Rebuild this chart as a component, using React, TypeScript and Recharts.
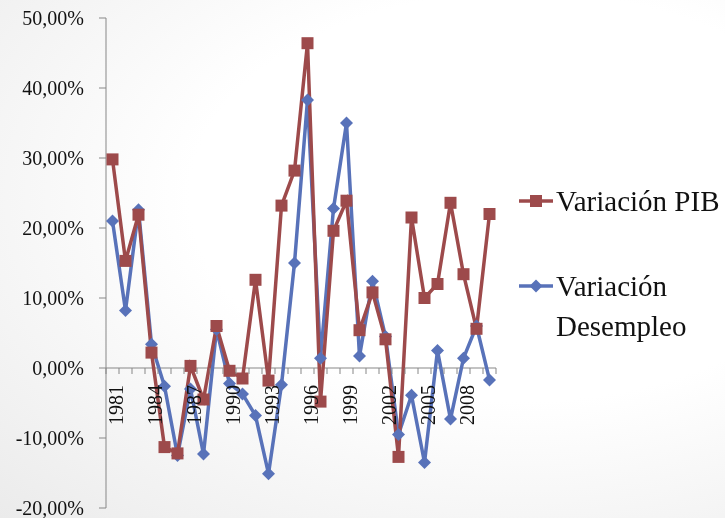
import React from 'react';
import { LineChart, Line, XAxis, YAxis, ReferenceLine } from 'recharts';

const years = [
  '1981', '1982', '1983', '1984', '1985', '1986', '1987', '1988', '1989', '1990',
  '1991', '1992', '1993', '1994', '1995', '1996', '1997', '1998', '1999', '2000',
  '2001', '2002', '2003', '2004', '2005', '2006', '2007', '2008', '2009', '2010',
];

const variacionPib = [
  29.8, 15.3, 21.9, 2.2, -11.3, -12.2, 0.3, -4.5, 6.0, -0.4,
  -1.5, 12.6, -1.8, 23.2, 28.2, 46.4, -4.8, 19.6, 23.9, 5.4,
  10.8, 4.1, -12.7, 21.5, 10.0, 12.0, 23.6, 13.4, 5.6, 22.0,
];

const variacionDesempleo = [
  21.0, 8.2, 22.6, 3.4, -2.6, -12.5, -3.0, -12.3, 5.5, -2.2,
  -3.7, -6.8, -15.1, -2.4, 15.0, 38.3, 1.4, 22.8, 35.0, 1.7,
  12.4, 4.5, -9.5, -3.9, -13.5, 2.5, -7.3, 1.4, 6.0, -1.7,
];

const yTicks = [-20, -10, 0, 10, 20, 30, 40, 50];
const labelEvery = 3;

const data = years.map((year, i) => ({
  year,
  pib: variacionPib[i],
  desempleo: variacionDesempleo[i],
}));

const W = 725;
const H = 518;
const X_AXIS_H = 1;
const MARGIN = { top: 18, right: 229, bottom: 10 - X_AXIS_H, left: 0 };
const Y_AXIS_W = 106;
const PLOT_W = W - MARGIN.left - MARGIN.right - Y_AXIS_W;
const PLOT_H = H - MARGIN.top - MARGIN.bottom - X_AXIS_H;
const Y_MIN = yTicks[0];
const Y_MAX = yTicks[yTicks.length - 1];
const ZERO_Y = MARGIN.top + (PLOT_H * Y_MAX) / (Y_MAX - Y_MIN);
const STEP = PLOT_W / years.length;

const RED = '#9D4A4B';
const BLUE = '#5872B9';
const AXIS = '#878787';
const FONT = '"Liberation Serif", serif';

const fmtPct = (v: number) => v.toFixed(2).replace('.', ',') + '%';

const SquareDot = (props: any) => {
  const { cx, cy, index } = props;
  if (cx == null || cy == null) return null;
  return <rect key={`sq-${index}`} x={cx - 6} y={cy - 6} width={12} height={12} fill={RED} />;
};

const DiamondDot = (props: any) => {
  const { cx, cy, index } = props;
  if (cx == null || cy == null) return null;
  const r = 6.5;
  return (
    <path
      key={`dm-${index}`}
      d={`M${cx},${cy - r}L${cx + r},${cy}L${cx},${cy + r}L${cx - r},${cy}Z`}
      fill={BLUE}
    />
  );
};

// axis crosses at 0, so ticks and labels are drawn at the zero line
const YearTick = (props: any) => {
  const { x, index, payload } = props;
  const left = x - STEP / 2;
  const isLast = index === years.length - 1;
  return (
    <g>
      <line x1={left} x2={left} y1={ZERO_Y} y2={ZERO_Y + 6} stroke={AXIS} />
      {isLast && <line x1={x + STEP / 2} x2={x + STEP / 2} y1={ZERO_Y} y2={ZERO_Y + 6} stroke={AXIS} />}
      {index % labelEvery === 0 && (
        <text
          x={x + 3}
          y={ZERO_Y + 17}
          transform={`rotate(-90, ${x + 3}, ${ZERO_Y + 17})`}
          textAnchor="end"
          dominantBaseline="central"
          fontFamily={FONT}
          fontSize={20}
          fill="#111"
        >
          {payload.value}
        </text>
      )}
    </g>
  );
};

const LegendItem = ({ color, shape, lines, top }: { color: string; shape: 'square' | 'diamond'; lines: string[]; top: number }) => (
  <div style={{ position: 'absolute', left: 519, top, display: 'flex', alignItems: 'flex-start' }}>
    <svg width={34} height={40} style={{ flex: 'none' }}>
      <line x1={0} x2={34} y1={20} y2={20} stroke={color} strokeWidth={3.5} />
      {shape === 'square' ? (
        <rect x={11} y={14} width={12} height={12} fill={color} />
      ) : (
        <path d="M17,13.5L23.5,20L17,26.5L10.5,20Z" fill={color} />
      )}
    </svg>
    <div style={{ marginLeft: 3, fontFamily: FONT, fontSize: 29, lineHeight: '40px', color: '#111' }}>
      {lines.map((l) => (
        <div key={l}>{l}</div>
      ))}
    </div>
  </div>
);

export default function App() {
  return (
    <div
      style={{
        position: 'fixed',
        left: 0,
        top: 0,
        width: W,
        height: H,
        background: 'radial-gradient(ellipse at 72% 38%, #ffffff 45%, #ebebeb 100%)',
        overflow: 'hidden',
      }}
    >
      <LineChart width={W} height={H} data={data} margin={MARGIN}>
        <XAxis
          dataKey="year"
          height={X_AXIS_H}
          axisLine={false}
          tickLine={false}
          interval={0}
          padding={{ left: STEP / 2, right: STEP / 2 }}
          tick={(p: any) => <YearTick {...p} />}
        />
        <YAxis
          width={Y_AXIS_W}
          domain={[Y_MIN, Y_MAX]}
          ticks={yTicks}
          interval={0}
          tickFormatter={fmtPct}
          stroke={AXIS}
          tickSize={7}
          tickMargin={15}
          tick={{ fontFamily: FONT, fontSize: 20, fill: '#111' }}
        />
        <ReferenceLine y={0} stroke={AXIS} strokeWidth={1.2} />
        <Line
          type="linear"
          dataKey="desempleo"
          name="Variación Desempleo"
          stroke={BLUE}
          strokeWidth={3.5}
          dot={DiamondDot}
          isAnimationActive={false}
        />
        <Line
          type="linear"
          dataKey="pib"
          name="Variación PIB"
          stroke={RED}
          strokeWidth={3.5}
          dot={SquareDot}
          isAnimationActive={false}
        />
      </LineChart>
      <LegendItem color={RED} shape="square" lines={['Variación PIB']} top={181} />
      <LegendItem color={BLUE} shape="diamond" lines={['Variación', 'Desempleo']} top={266} />
    </div>
  );
}
